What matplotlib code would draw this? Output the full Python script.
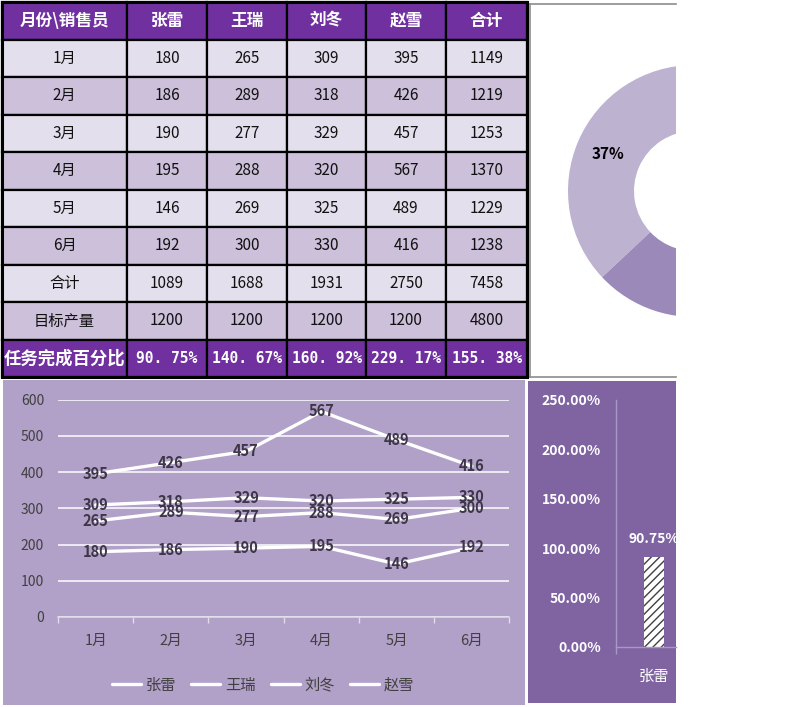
import numpy as np
import matplotlib
matplotlib.use("Agg")
import matplotlib.pyplot as plt
from matplotlib.patches import Rectangle

plt.rcParams['font.family'] = ['Noto Sans CJK SC', 'DejaVu Sans']

# ---------------- data ----------------
months = ['1月', '2月', '3月', '4月', '5月', '6月']
people = ['张雷', '王瑞', '刘冬', '赵雪']
zhang_lei = [180, 186, 190, 195, 146, 192]
wang_rui = [265, 289, 277, 288, 269, 300]
liu_dong = [309, 318, 329, 320, 325, 330]
zhao_xue = [395, 426, 457, 567, 489, 416]
month_totals = [1149, 1219, 1253, 1370, 1229, 1238]
col_totals = [1089, 1688, 1931, 2750, 7458]
targets = [1200, 1200, 1200, 1200, 4800]
pct_done = [90.75, 140.67, 160.92, 229.17, 155.38]

bar_cats = ['张雷', '王瑞', '刘冬', '赵雪', '合计']
donut_values = [37, 63]

# ---------------- layout helpers ----------------
W, H = 794, 707
fig = plt.figure(figsize=(W / 100, H / 100), dpi=100)


def box(x0, y0, x1, y1):
    return [x0 / W, 1 - y1 / H, (x1 - x0) / W, (y1 - y0) / H]


PURPLE = '#7030a0'
LIGHT = '#e4dfec'
MID = '#ccc0da'

# ---------------- table ----------------
tax = fig.add_axes(box(2, 2, 527, 377))
col_edges = [2, 127, 207, 287, 366, 446, 527]
tax.set_xlim(col_edges[0], col_edges[-1])
tax.set_ylim(10, 0)
tax.axis('off')

header = ['月份\\销售员'] + people + ['合计']
rows = [header]
for i, m in enumerate(months):
    rows.append([m, zhang_lei[i], wang_rui[i], liu_dong[i], zhao_xue[i], month_totals[i]])
rows.append(['合计'] + col_totals)
rows.append(['目标产量'] + targets)
rows.append(['任务完成百分比'] + ['%.2f%%' % p for p in pct_done])

for r, row in enumerate(rows):
    if r == 0 or r == len(rows) - 1:
        bg = PURPLE
    elif r % 2 == 1:
        bg = LIGHT
    else:
        bg = MID
    for c, val in enumerate(row):
        x0, x1 = col_edges[c], col_edges[c + 1]
        tax.add_patch(Rectangle((x0, r), x1 - x0, 1, facecolor=bg,
                                edgecolor='black', linewidth=1.6, clip_on=False))
        xc = (x0 + x1) / 2
        if r == 0:
            tax.text(xc, r + 0.5, val, ha='center', va='center', color='white',
                     fontsize=12, fontweight='bold')
        elif r == len(rows) - 1:
            if c == 0:
                tax.text(xc, r + 0.5, val, ha='center', va='center', color='white',
                         fontsize=12.5, fontweight='bold')
            else:
                tax.text(xc, r + 0.5, val.replace('.', '. '), ha='center', va='center',
                         color='white', fontsize=10.5, fontweight='bold',
                         family=['DejaVu Sans Mono'])
        else:
            tax.text(xc, r + 0.5, str(val), ha='center', va='center', color='#111111',
                     fontsize=11)
tax.add_patch(Rectangle((col_edges[0], 0), col_edges[-1] - col_edges[0], 10,
                        facecolor='none', edgecolor='black', linewidth=2.2, clip_on=False))

# ---------------- donut panel ----------------
dax = fig.add_axes(box(530, 4, 676, 377))
wedges, texts, autotexts = dax.pie(donut_values, colors=['#bdb2d0', '#9b89b9'],
                                   startangle=90, counterclock=True,
                                   wedgeprops=dict(width=0.524, linewidth=0),
                                   autopct='%d%%', pctdistance=0.74,
                                   textprops=dict(fontsize=11, fontweight='bold', color='black'))
for w in wedges:
    w.set_clip_on(True)
for t in autotexts:
    t.set_clip_on(True)
autotexts[1].set_visible(False)   # lies in the cut-off half of the panel
dax.set_aspect('auto')
dax.set_frame_on(True)
dax.set_xticks([])
dax.set_yticks([])
dax.set_xlim(-(694 - 530) / 126, -(694 - 676) / 126)
dax.set_ylim(-(377 - 191) / 126, (191 - 4) / 126)
for side in ['left', 'top', 'bottom']:
    dax.spines[side].set_color('#8c8c8c')
    dax.spines[side].set_linewidth(1.2)
dax.spines['right'].set_visible(False)

# ---------------- line chart ----------------
fig.add_artist(Rectangle((3 / W, 1 - 705 / H), (525 - 3) / W, (705 - 380) / H,
                         transform=fig.transFigure, facecolor='#b1a0c7', edgecolor='none',
                         zorder=0))
lax = fig.add_axes(box(58, 399.5, 509.5, 617))
lax.set_facecolor('none')
x = np.arange(len(months))
lax.set_yticks(range(0, 601, 100))
lax.set_xticks(x)
lax.set_xticklabels(months)
lax.set_xticks(np.arange(-0.5, 6, 1), minor=True)
lax.set_xlim(-0.5, 5.5)
lax.set_ylim(0, 600)
lax.yaxis.grid(True, color='white', linewidth=1.1)
lax.set_axisbelow(True)
for side in ['top', 'right', 'left']:
    lax.spines[side].set_visible(False)
lax.spines['bottom'].set_color('#e0dcea')
lax.spines['bottom'].set_linewidth(1.1)
lax.tick_params(axis='y', length=0, pad=10, labelsize=10, labelcolor='#404040')
lax.tick_params(axis='x', which='major', length=0, pad=12, labelsize=10.5, labelcolor='#404040')
lax.tick_params(axis='x', which='minor', length=4, color='#e0dcea', width=1)

series = [zhang_lei, wang_rui, liu_dong, zhao_xue]
for name, vals in zip(people, series):
    lax.plot(x, vals, color='white', linewidth=2.4, solid_joinstyle='round',
             solid_capstyle='round', label=name)
for vals in series:
    for xi, v in zip(x, vals):
        lax.text(xi, v, str(v), ha='center', va='center', fontsize=10.5,
                 fontweight='bold', color='#3c3646')
lax.legend(loc='center', bbox_to_anchor=(263 / W, 1 - 685 / H),
           bbox_transform=fig.transFigure, ncol=4, frameon=False, fontsize=11,
           handlelength=1.9, handletextpad=0.3, columnspacing=1.0, labelcolor='#404040')

# ---------------- bar chart ----------------
fig.add_artist(Rectangle((528 / W, 1 - 703 / H), (676 - 528) / W, (703 - 381) / H,
                         transform=fig.transFigure, facecolor='#8064a2', edgecolor='none',
                         zorder=0))
bax = fig.add_axes(box(616, 400, 676, 647))
bax.set_facecolor('none')
bx = np.arange(len(bar_cats))
bars = bax.bar(bx, pct_done, width=0.263, color='white', edgecolor='#404040',
               hatch='////', linewidth=0)
yt = list(range(0, 251, 50))
bax.set_yticks(yt)
bax.set_yticklabels(['%.2f%%' % t for t in yt])
bax.set_xticks(bx)
bax.set_xticklabels(bar_cats)
bax.set_xticks([-0.5], minor=True)
bax.set_xlim(-0.5, -0.5 + 60 / 76)
bax.set_ylim(0, 250)
bax.tick_params(axis='y', length=0, pad=11, labelsize=10, labelcolor='white')
for lab in bax.get_yticklabels():
    lab.set_fontweight('bold')
bax.tick_params(axis='x', which='major', length=0, pad=15, labelsize=11, labelcolor='white')
bax.tick_params(axis='x', which='minor', length=5, color='#a898c8', width=1)
for side in ['top', 'right']:
    bax.spines[side].set_visible(False)
for side in ['left', 'bottom']:
    bax.spines[side].set_color('#a898c8')
    bax.spines[side].set_linewidth(1)
for xi, v in zip(bx, pct_done):
    bax.annotate('%.2f%%' % v, (xi, v), xytext=(0, 8), textcoords='offset points',
                 ha='center', va='bottom', color='white', fontsize=10,
                 fontweight='bold', annotation_clip=True)

fig.savefig('out.png', dpi=100, facecolor='white')
